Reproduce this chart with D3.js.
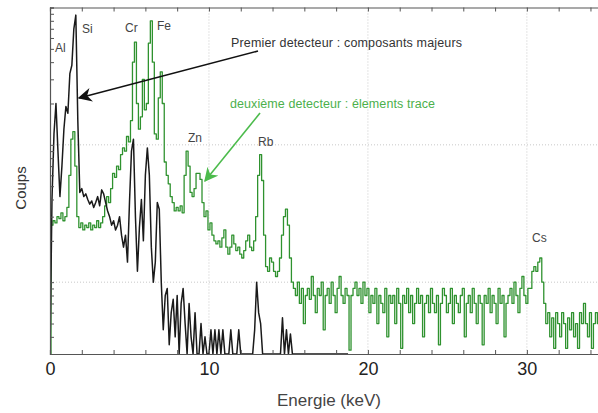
<!DOCTYPE html>
<html>
<head>
<meta charset="utf-8">
<script src="https://cdn.jsdelivr.net/npm/d3@7"></script>
<style>
  html, body { margin: 0; padding: 0; background: #fff; }
  svg { display: block; font-family: "Liberation Sans", Arial, sans-serif; }
</style>
</head>
<body>
<svg id="chart" width="598" height="413"></svg>
<script>
// ---- data ----
const channelWidth = 0.125; // keV per channel
const xTickLabels = [0, 10, 20, 30];
const elementNames = ["Al", "Si", "Cr", "Fe", "Zn", "Rb", "Cs"];
const seriesNames = ["Premier detecteur : composants majeurs", "deuxième detecteur : élements trace"];

// second detector (trace elements), counts per channel
const greenCounts = [
  3,26,28,27,30,29,32,28,30,35,60,110,125,70,30,25,27,24,26,25,
  27,24,26,25,28,25,27,30,36,42,38,48,62,58,70,66,85,95,90,115,
  105,150,400,560,200,130,160,300,180,200,550,800,400,120,110,220,340,200,75,60,
  52,42,38,33,35,33,36,32,60,90,70,45,42,48,62,62,56,38,30,33,
  24,27,22,20,19,20,18,21,24,18,16,18,22,19,17,18,16,15,17,20,
  22,18,17,20,30,60,85,55,22,13,12,15,14,12,11,12,15,22,30,34,
  26,15,10,9,8,10,7,9,5,8,9,7.5,11,8,6,9,8,10,4.5,8,
  9,7,10,8,6,9,11,8,7,9,8,3.2,8,9,10,8,9,7,10,8,
  9,6,8,7,9,5,8,7,6,9,4,8,7,8,5,9,7,3.3,8,7,
  9,6,8,5,7,9,7,8,4,7,8,6,9,7,6,8,3.5,7,9,8,
  6,7,9,5,8,7,6,8,9,4,7,8,6,9,7,5,8,7,3.5,8,
  7,9,6,8,7,5,9,7,8,4,7,8,9,7,10,8,6,9,11,8,
  7,9,9,12,13,12,14,15,10,7,5,6,4,5.5,3.3,6,5,4,6,5,
  3.3,5.5,4.5,6,4,5,3.3,6,5,7,5,4,6,3.3,5,6,5,6
];

// first detector (major components), counts per channel
const blackCounts = [
  3,40,120,200,90,42,70,130,190,170,330,380,700,880,150,45,48,42,44,40,
  37,39,35,38,42,36,47,44,38,33,30,26,28,24,26,30,22,18,22,14,
  38,90,110,30,12,25,40,20,60,95,60,18,10,14,38,34,10,4.5,8,9,
  3.5,6,7.5,4,8,3,7,9,5,3,7,4,3,6,3,3,5,3,4,3,
  3,4.5,3,4.5,3,4.5,3,4.5,3,3,3,4.5,3,3,3,4.5,3,3,3,3,
  3,3,3,4.5,10,6,5,3,3,3,3,3,3,3,3,3,3,5.5,3,4.5,
  3,4.2,3,3,3,3,3,3,3,3,3,3,3,3,3,3,3,3,3,3,
  3,3,3,3,3,3,3,3,3,3,3
];

(function () {
// ---- layout ----
const svg = d3.select("#chart");
const mLeft = 50, mRight = 600, mTop = 7.5, mBottom = 354;

const x = d3.scaleLinear().domain([0, 34.6]).range([mLeft, mRight]);
const y = d3.scaleLog().domain([3, 1000]).range([mBottom, mTop]).clamp(true);

const defs = svg.append("defs");
defs.append("clipPath").attr("id", "plotclip")
  .append("rect").attr("x", mLeft).attr("y", mTop).attr("width", 598 - mLeft).attr("height", mBottom - mTop);

// grid
const grid = svg.append("g").attr("stroke", "#c8c8c8").attr("stroke-dasharray", "1,2").attr("stroke-width", 1);
[10, 20, 30].forEach(v => grid.append("line")
  .attr("x1", x(v)).attr("x2", x(v)).attr("y1", mTop).attr("y2", mBottom));
[10, 100].forEach(v => grid.append("line")
  .attr("x1", mLeft).attr("x2", 598).attr("y1", y(v)).attr("y2", y(v)));

// series
const plot = svg.append("g").attr("clip-path", "url(#plotclip)");
const lineGreen = d3.line().x((d, i) => x(i * channelWidth)).y(d => y(d)).curve(d3.curveStep);
const lineBlack = d3.line().x((d, i) => x(i * channelWidth)).y(d => y(d)).curve(d3.curveLinear);

plot.append("path").datum(greenCounts).attr("d", lineGreen)
  .attr("fill", "none").attr("stroke", "#2f922f").attr("stroke-width", 1.3).attr("stroke-linejoin", "round");
plot.append("path").datum(blackCounts).attr("d", lineBlack)
  .attr("fill", "none").attr("stroke", "#1a1a1a").attr("stroke-width", 1.5).attr("stroke-linejoin", "round");

// axes
const xTicks = d3.range(0, 35, 2);
const axB = svg.append("g").attr("transform", `translate(0,${mBottom})`)
  .call(d3.axisBottom(x).tickValues(xTicks).tickSize(-4).tickPadding(8)
    .tickFormat(d => xTickLabels.includes(d) ? d : ""));
const axT = svg.append("g").attr("transform", `translate(0,${mTop})`)
  .call(d3.axisTop(x).tickValues(xTicks).tickSize(-4).tickFormat(""));
const axL = svg.append("g").attr("transform", `translate(${mLeft},0)`)
  .call(d3.axisLeft(y).tickSize(-4).tickFormat(""));
[axB, axT, axL].forEach(g => {
  g.select(".domain").attr("stroke", "#555").attr("stroke-width", 1.2);
  g.selectAll(".tick line").attr("stroke", "#555");
});
axB.selectAll(".tick text").attr("font-size", 18).attr("fill", "#222")
  .attr("font-family", "Liberation Sans, Arial, sans-serif");

// axis titles
svg.append("text").attr("x", 329).attr("y", 406).attr("text-anchor", "middle")
  .attr("font-size", 17).attr("fill", "#444").text("Energie (keV)");
svg.append("text").attr("transform", "translate(26,188) rotate(-90)").attr("text-anchor", "middle")
  .attr("font-size", 15).attr("fill", "#333").text("Coups");

// element labels
const labelPos = [[55, 52], [82, 33], [125, 32], [157, 30], [188, 142], [258, 146], [532, 242]];
elementNames.forEach((n, i) => svg.append("text")
  .attr("x", labelPos[i][0]).attr("y", labelPos[i][1])
  .attr("font-size", 12).attr("fill", "#444").text(n));

// annotations
function marker(id, color) {
  defs.append("marker").attr("id", id).attr("viewBox", "0 0 10 10")
    .attr("refX", 9).attr("refY", 5).attr("markerWidth", 14).attr("markerHeight", 14)
    .attr("orient", "auto").attr("markerUnits", "userSpaceOnUse")
    .append("path").attr("d", "M0,0 L10,5 L0,10 L3,5 Z").attr("fill", color);
}
marker("arrBlack", "#111");
marker("arrGreen", "#4cbb4c");

svg.append("line").attr("x1", 258).attr("y1", 51).attr("x2", 79).attr("y2", 98)
  .attr("stroke", "#111").attr("stroke-width", 1.6).attr("marker-end", "url(#arrBlack)");
svg.append("line").attr("x1", 260).attr("y1", 113).attr("x2", 205).attr("y2", 181)
  .attr("stroke", "#4cbb4c").attr("stroke-width", 1.6).attr("marker-end", "url(#arrGreen)");

svg.append("text").attr("x", 231).attr("y", 47).attr("font-size", 12.5).attr("fill", "#333")
  .attr("textLength", 231).attr("lengthAdjust", "spacing").text(seriesNames[0]);
svg.append("text").attr("x", 230).attr("y", 108).attr("font-size", 12.5).attr("fill", "#4cb04c")
  .attr("textLength", 205).attr("lengthAdjust", "spacing").text(seriesNames[1]);
})();
</script>
</body>
</html>
